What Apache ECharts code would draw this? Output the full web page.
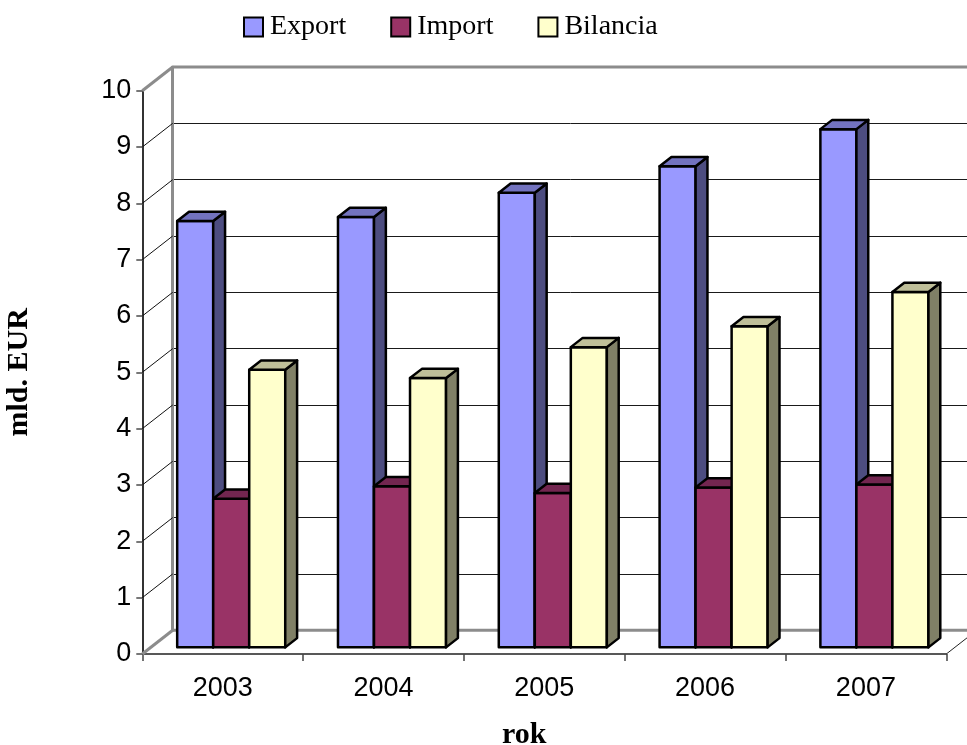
<!DOCTYPE html>
<html>
<head>
<meta charset="utf-8">
<style>
  html, body { margin: 0; padding: 0; background: #fff; }
  #chart { width: 967px; height: 745px; }
</style>
<script src="https://cdn.jsdelivr.net/npm/echarts@6/dist/echarts.min.js"></script>
</head>
<body>
<div id="chart"></div>
<script>
// Foreign trade, billions of EUR
const years = ['2003', '2004', '2005', '2006', '2007'];
const exportVals = [7.57, 7.64, 8.07, 8.54, 9.20];
const importVals = [2.64, 2.86, 2.74, 2.84, 2.89];
const balanceVals = [4.93, 4.78, 5.33, 5.70, 6.31];
const yTicks = [0, 1, 2, 3, 4, 5, 6, 7, 8, 9, 10];

// oblique projection of the depth axis (screen px from front plane to back wall)
const DEPTH_X = 30.4;
const DEPTH_Y = -23.7;
// bar block occupies this slice of the depth
const BAR_NEAR = 0.28;
const BAR_FAR = 0.67;
const BAR_FRAC = 0.224;   // each bar's width as share of a category band

const palette = [
  { front: '#9999FF', side: '#4D4D80', top: '#7373BF' },
  { front: '#993366', side: '#4D1A33', top: '#732650' },
  { front: '#FFFFCC', side: '#808066', top: '#BFBF99' }
];

const chart = echarts.init(document.getElementById('chart'), null, { renderer: 'canvas' });

function barRenderer(slot) {
  return function (params, api) {
    const i = api.value(0);
    const v = api.value(1);
    const band = api.size([1, 0])[0];
    const base = api.coord([i, 0]);
    const peak = api.coord([i, v]);
    const w = band * BAR_FRAC;
    const nx = DEPTH_X * BAR_NEAR, ny = DEPTH_Y * BAR_NEAR;
    const dx = DEPTH_X * (BAR_FAR - BAR_NEAR), dy = DEPTH_Y * (BAR_FAR - BAR_NEAR);
    const x0 = base[0] - (w * 3) / 2 + slot * w + nx;
    const x1 = x0 + w;
    const yb = base[1] + ny;
    const yt = peak[1] + ny;
    const c = palette[slot];
    const stroke = { stroke: '#000', lineWidth: 2.5, lineJoin: 'round' };
    return {
      type: 'group',
      children: [
        { type: 'polygon', shape: { points: [[x0, yt], [x1, yt], [x1, yb], [x0, yb]] },
          style: Object.assign({ fill: c.front }, stroke) },
        { type: 'polygon', shape: { points: [[x1, yt], [x1 + dx, yt + dy], [x1 + dx, yb + dy], [x1, yb]] },
          style: Object.assign({ fill: c.side }, stroke) },
        { type: 'polygon', shape: { points: [[x0, yt], [x0 + dx, yt + dy], [x1 + dx, yt + dy], [x1, yt]] },
          style: Object.assign({ fill: c.top }, stroke) }
      ]
    };
  };
}

// side wall and floor edges joining front axis ticks to the back wall
function frameRenderer(params, api) {
  const v = api.value(0);
  const band = api.size([1, 0])[0];
  const p = api.coord([0, v]);
  const left = p[0] - band / 2;
  const right = left + band * years.length;
  const edge = (v === 0 || v === 10);
  const children = [{
    type: 'line',
    shape: { x1: left, y1: p[1], x2: left + DEPTH_X, y2: p[1] + DEPTH_Y },
    style: { stroke: edge ? '#8c8c8c' : '#111', lineWidth: edge ? 3 : 1 }
  }];
  if (edge) {
    children.push({
      type: 'line',
      shape: { x1: left + DEPTH_X, y1: p[1] + DEPTH_Y, x2: right + DEPTH_X, y2: p[1] + DEPTH_Y },
      style: { stroke: '#8c8c8c', lineWidth: 3 }
    });
  }
  if (v === 0) {
    children.push({
      type: 'line',
      shape: { x1: right, y1: p[1], x2: right + DEPTH_X, y2: p[1] + DEPTH_Y },
      style: { stroke: '#222', lineWidth: 1 }
    });
  }
  return { type: 'group', children: children };
}

const axisFont = { fontFamily: 'Liberation Sans, Arial, sans-serif', fontSize: 27, color: '#000' };
const titleFont = { fontFamily: 'Liberation Serif, Times New Roman, serif', fontSize: 30, fontWeight: 'bold', color: '#000' };

const option = {
  animation: false,
  backgroundColor: '#fff',
  legend: {
    left: 238,
    top: 8,
    itemWidth: 19,
    itemHeight: 19,
    itemGap: 44,
    textStyle: { fontFamily: 'Liberation Serif, Times New Roman, serif', fontSize: 28, color: '#000', padding: [0, 0, 0, 2] },
    data: [
      { name: 'Export', icon: 'rect', itemStyle: { color: palette[0].front, borderColor: '#000', borderWidth: 2 } },
      { name: 'Import', icon: 'rect', itemStyle: { color: palette[1].front, borderColor: '#000', borderWidth: 2 } },
      { name: 'Bilancia', icon: 'rect', itemStyle: { color: palette[2].front, borderColor: '#000', borderWidth: 2 } }
    ]
  },
  grid: [
    { left: 142.3, top: 90.7, width: 804, height: 563.3, containLabel: false, outerBoundsMode: 'none' },
    { left: 142.3 + DEPTH_X, top: 90.7 + DEPTH_Y, width: 804, height: 563.3, containLabel: false, outerBoundsMode: 'none' }
  ],
  xAxis: [
    {
      gridIndex: 0, type: 'category', data: years, boundaryGap: true,
      axisLine: { show: true, lineStyle: { color: '#222', width: 1.5 } },
      axisTick: { show: true, length: 7, inside: false, lineStyle: { color: '#444', width: 1.5 } },
      axisLabel: Object.assign({ margin: 21 }, axisFont),
      name: 'rok', nameLocation: 'middle', nameGap: 66,
      nameTextStyle: Object.assign({ padding: [0, 40, 0, 0] }, titleFont)
    },
    {
      gridIndex: 1, type: 'category', data: years, show: false
    }
  ],
  yAxis: [
    {
      gridIndex: 0, type: 'value', min: 0, max: 10, interval: 1,
      axisLine: { show: true, lineStyle: { color: '#333', width: 2 } },
      axisTick: { show: true, length: 6, lineStyle: { color: '#777', width: 2 } },
      axisLabel: Object.assign({ margin: 11 }, axisFont),
      splitLine: { show: false },
      name: 'mld. EUR', nameLocation: 'middle', nameRotate: 90, nameGap: 108, nameTextStyle: titleFont
    },
    {
      gridIndex: 1, type: 'value', min: 0, max: 10, interval: 1,
      axisLine: { show: true, lineStyle: { color: '#8c8c8c', width: 3 } },
      axisTick: { show: false },
      axisLabel: { show: false },
      splitLine: { show: true, lineStyle: { color: '#1a1a1a', width: 1 } }
    }
  ],
  series: [
    {
      name: 'frame', type: 'custom', xAxisIndex: 0, yAxisIndex: 0, z: 1, silent: true,
      renderItem: frameRenderer,
      data: yTicks.map(v => [v]),
      encode: { x: -1, y: 0 }
    },
    {
      name: 'Export', type: 'custom', xAxisIndex: 0, yAxisIndex: 0, z: 3,
      itemStyle: { color: palette[0].front },
      renderItem: barRenderer(0),
      data: exportVals.map((v, i) => [i, v]),
      encode: { x: 0, y: 1 }
    },
    {
      name: 'Import', type: 'custom', xAxisIndex: 0, yAxisIndex: 0, z: 3,
      itemStyle: { color: palette[1].front },
      renderItem: barRenderer(1),
      data: importVals.map((v, i) => [i, v]),
      encode: { x: 0, y: 1 }
    },
    {
      name: 'Bilancia', type: 'custom', xAxisIndex: 0, yAxisIndex: 0, z: 3,
      itemStyle: { color: palette[2].front },
      renderItem: barRenderer(2),
      data: balanceVals.map((v, i) => [i, v]),
      encode: { x: 0, y: 1 }
    }
  ]
};

chart.setOption(option);
</script>
</body>
</html>
